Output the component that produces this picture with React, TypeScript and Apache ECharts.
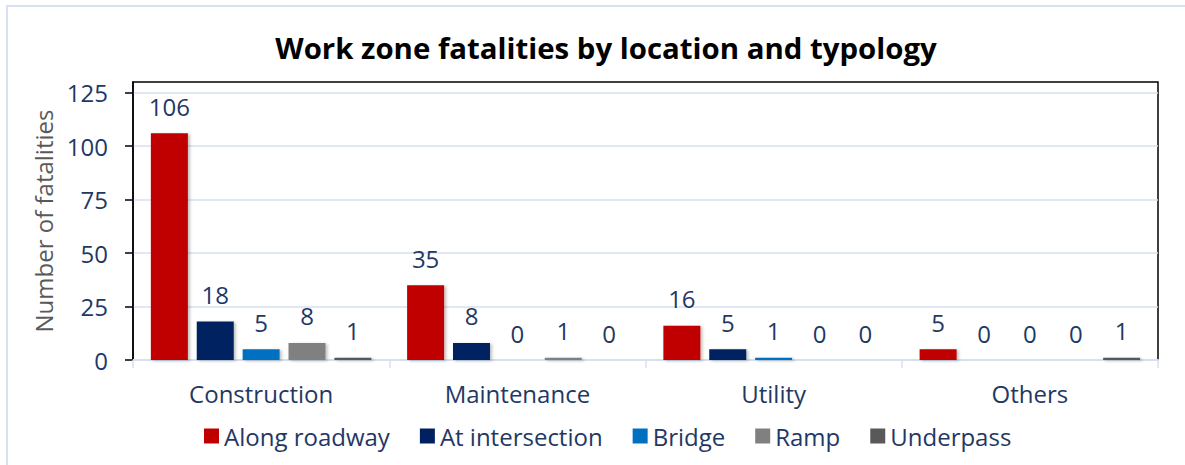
import React, { useEffect, useRef } from "react";
import * as echarts from "echarts";

const categories = ["Construction", "Maintenance", "Utility", "Others"];
const seriesNames = ["Along roadway", "At intersection", "Bridge", "Ramp", "Underpass"];
const alongRoadway = [106, 35, 16, 5];
const atIntersection = [18, 8, 5, 0];
const bridge = [5, 0, 1, 0];
const ramp = [8, 1, 0, 0];
const underpass = [1, 0, 0, 1];
const yTicks = [0, 25, 50, 75, 100, 125];
const colors = ["#C00000", "#002060", "#0070C0", "#808080", "#595959"];

const FONT = "'Open Sans', 'Noto Sans', sans-serif";
const TEXT = "#1F3864";
const LIGHT = "#D6E0F2";

export default function App() {
  const ref = useRef<HTMLDivElement>(null);
  useEffect(() => {
    if (!ref.current) return;
    const chart = echarts.init(ref.current, undefined, { renderer: "svg" });
    const data = [alongRoadway, atIntersection, bridge, ramp, underpass];
    chart.setOption({
      animation: false,
      textStyle: { fontFamily: FONT },
      title: {
        text: "Work zone fatalities by location and typology",
        left: 601,
        textAlign: "center",
        top: 28,
        textStyle: { fontFamily: FONT, fontWeight: "bold", fontSize: 29.4, color: "#000" },
      },
      graphic: [
        {
          type: "rect",
          shape: { x: 7, y: 6, width: 1200, height: 480 },
          style: { fill: "none", stroke: LIGHT, lineWidth: 2 },
          silent: true,
        },
      ],
      legend: {
        bottom: 12,
        left: 199,
        itemWidth: 15,
        itemHeight: 15,
        itemGap: 30,
        icon: "rect",
        data: seriesNames,
        textStyle: { fontFamily: FONT, fontSize: 24, color: TEXT },
      },
      grid: {
        left: 133,
        right: 27,
        top: 82,
        bottom: 105,
        show: true,
        borderColor: "#000",
        borderWidth: 1.5,
        backgroundColor: "transparent",
      },
      xAxis: {
        type: "category",
        data: categories,
        axisLine: { show: true, lineStyle: { color: LIGHT, width: 2 } },
        axisTick: { show: true, length: 8, lineStyle: { color: LIGHT, width: 1.5 } },
        axisLabel: { fontFamily: FONT, fontSize: 24, color: TEXT, margin: 21 },
        splitLine: { show: false },
      },
      yAxis: {
        type: "value",
        min: 0,
        max: 130,
        interval: 25,
        name: "Number of fatalities",
        nameLocation: "middle",
        nameGap: 76,
        nameTextStyle: { fontFamily: FONT, fontSize: 24, color: "#595959" },
        axisLine: { show: true, lineStyle: { color: "#000", width: 1.5 } },
        axisTick: { show: true, length: 8, lineStyle: { color: "#000", width: 1.5 }, customValues: yTicks },
        axisLabel: { fontFamily: FONT, fontSize: 24, color: TEXT, margin: 25, customValues: yTicks },
        splitLine: { show: true, lineStyle: { color: LIGHT, width: 1.5 } },
      },
      series: seriesNames.map((name, i) => ({
        name,
        type: "bar",
        data: data[i],
        barWidth: 37,
        barGap: "24%",
        itemStyle: {
          color: colors[i],
          shadowColor: "rgba(0,0,0,0.25)",
          shadowBlur: 3,
          shadowOffsetX: 2,
          shadowOffsetY: 1,
        },
        label: {
          show: true,
          position: "top",
          distance: 15,
          fontFamily: FONT,
          fontSize: 24,
          color: TEXT,
        },
      })),
    });
    return () => chart.dispose();
  }, []);
  return (
    <div
      ref={ref}
      style={{ position: "absolute", left: 0, top: 0, width: 1185, height: 465, background: "#fff" }}
    />
  );
}
